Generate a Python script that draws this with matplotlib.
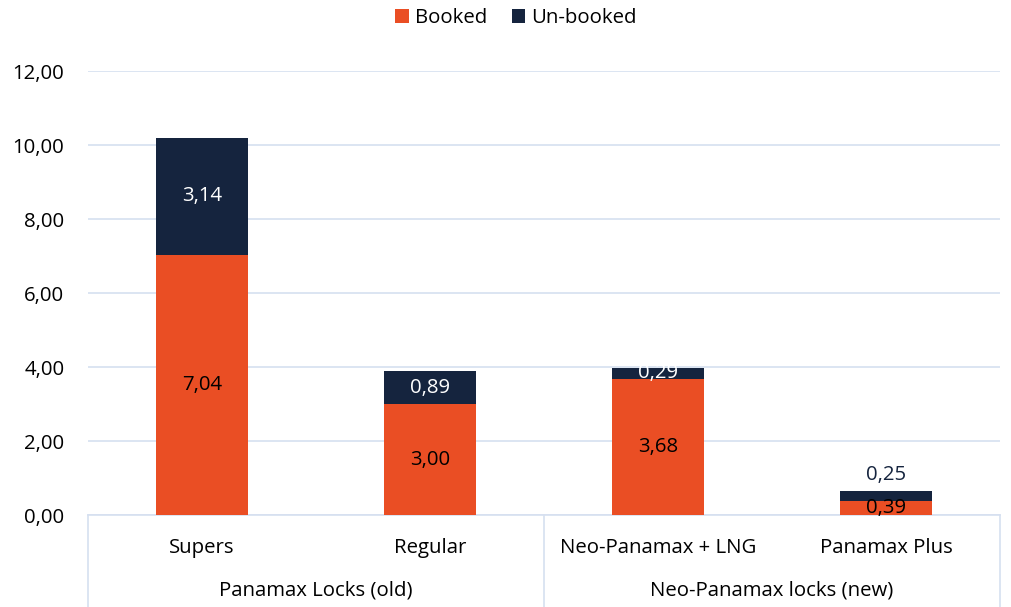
import numpy as np
import matplotlib.pyplot as plt
from matplotlib.lines import Line2D

plt.rcParams['font.family'] = ['Open Sans', 'DejaVu Sans']

categories = ['Supers', 'Regular', 'Neo-Panamax + LNG', 'Panamax Plus']
groups = ['Panamax Locks (old)', 'Neo-Panamax locks (new)']
booked = [7.04, 3.00, 3.68, 0.39]
unbooked = [3.14, 0.89, 0.29, 0.25]

orange = '#EA4E24'
navy = '#15243E'
grid_blue = '#D6E0F0'
fs = 14.7

fig = plt.figure(figsize=(10.11, 6.07), dpi=100)
ax = fig.add_axes([88 / 1011, 92 / 607, 912 / 1011, 444 / 607])

x = np.arange(len(categories))
b1 = ax.bar(x, booked, width=0.4, color=orange, label='Booked', zorder=3)
b2 = ax.bar(x, unbooked, width=0.4, bottom=booked, color=navy, label='Un-booked', zorder=3)

ax.set_xlim(-0.5, 3.5)
ax.set_ylim(0, 12)
ax.set_yticks(np.arange(0, 13, 2))
ax.set_yticklabels([f'{v:.2f}'.replace('.', ',') for v in np.arange(0, 13, 2)], fontsize=fs)
ax.tick_params(axis='y', length=0, pad=17)
ax.set_xticks([])
ax.grid(axis='y', color=grid_blue, linewidth=1.2, zorder=0)
for s in ['top', 'right', 'left']:
    ax.spines[s].set_visible(False)
ax.spines['bottom'].set_color(grid_blue)
ax.spines['bottom'].set_linewidth(1.2)

# value labels
for i in range(len(categories)):
    ax.text(x[i], booked[i] / 2, f'{booked[i]:.2f}'.replace('.', ','), ha='center', va='center',
            fontsize=fs, color='black', zorder=4)
    lab = f'{unbooked[i]:.2f}'.replace('.', ',')
    if unbooked[i] < 0.28:
        ax.text(x[i], booked[i] + unbooked[i] + 0.45, lab, ha='center', va='center',
                fontsize=fs, color=navy, zorder=4)
    else:
        ax.text(x[i], booked[i] + unbooked[i] / 2, lab, ha='center', va='center',
                fontsize=fs, color='white', zorder=4)

# category axis with groups
trans = ax.get_xaxis_transform()
for i, c in enumerate(categories):
    ax.text(x[i], -0.075, c, transform=trans, ha='center', va='center', fontsize=fs)
for j, g in enumerate(groups):
    ax.text(0.5 + 2 * j, -0.17, g, transform=trans, ha='center', va='center', fontsize=fs)
for xv in [-0.5, 1.5, 3.5]:
    ax.add_line(Line2D([xv, xv], [0, -0.21], transform=trans, color=grid_blue,
                       linewidth=1.2, clip_on=False))

fig.legend(handles=[b1, b2], loc='center', bbox_to_anchor=(516 / 1011, 1 - 18 / 607), ncol=2,
           frameon=False, fontsize=fs, handlelength=0.65, handleheight=0.65,
           handletextpad=0.3, columnspacing=1.2)

fig.savefig('out.png', dpi=100)
